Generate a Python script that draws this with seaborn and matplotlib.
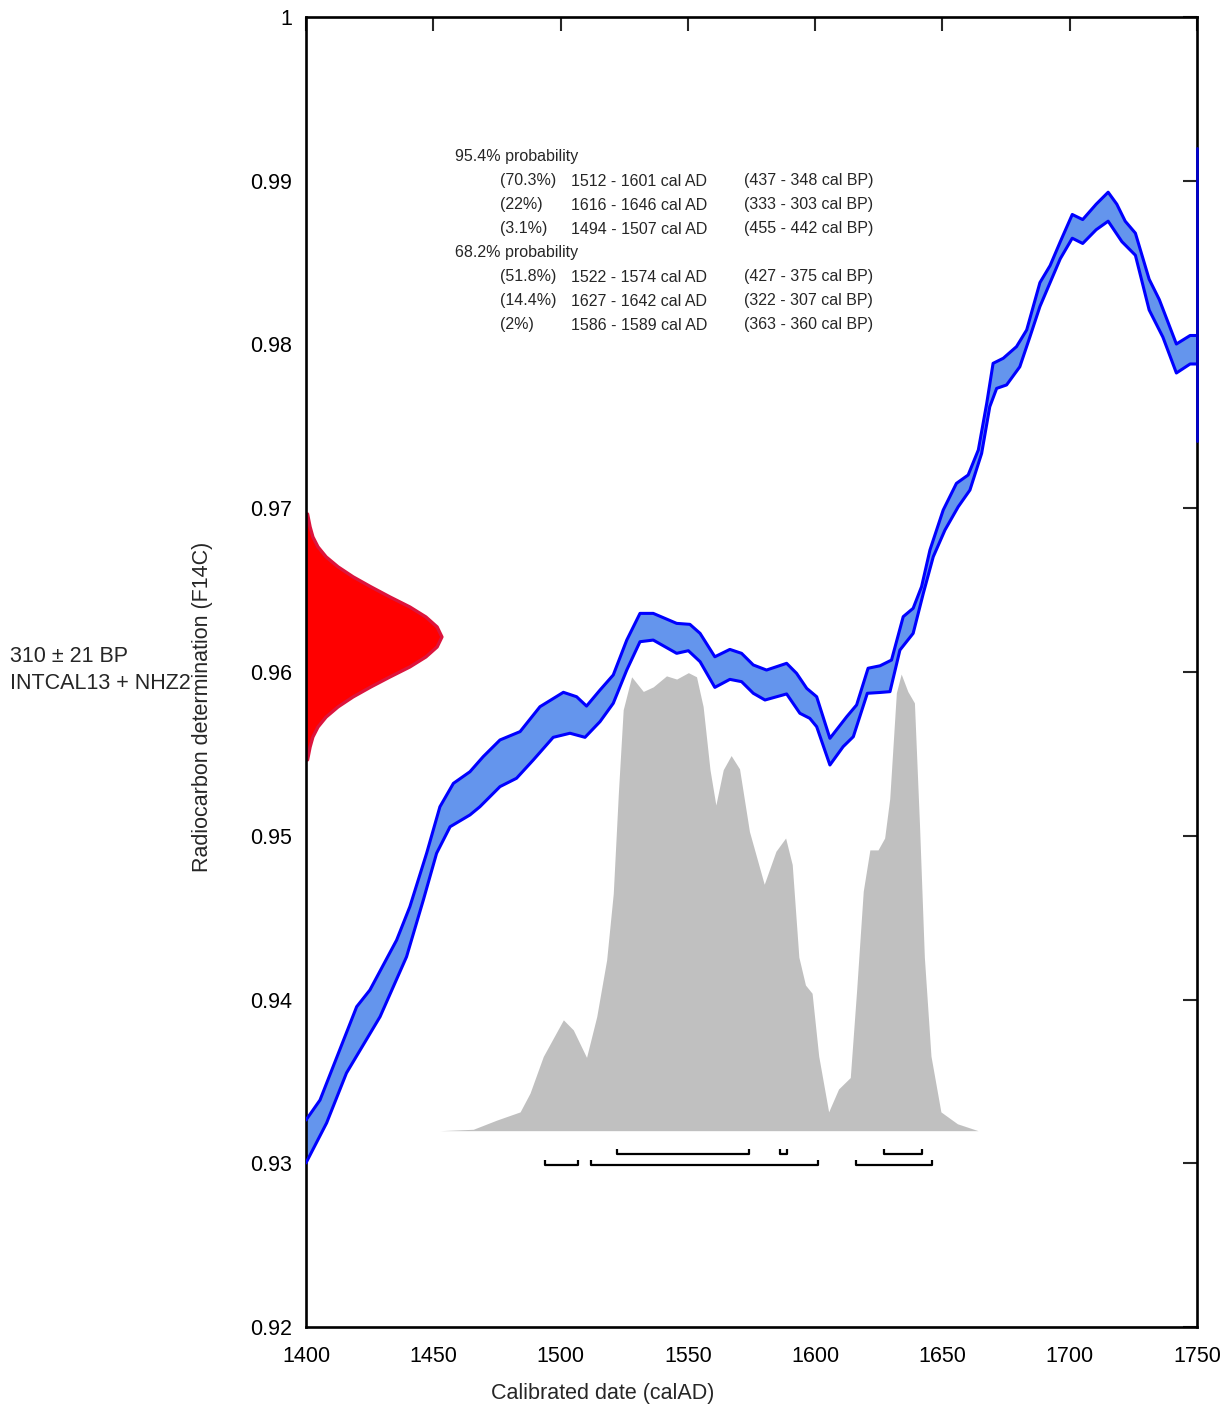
import numpy as np
import matplotlib
matplotlib.use("Agg")
import matplotlib.pyplot as plt
import seaborn as sns
import pandas as pd

# calibration curve band (INTCAL13 + NHZ2), upper edge
upper_year = [1400.0, 1405.5, 1410.6, 1419.9, 1425.1, 1435.6, 1440.8, 1447.4, 1452.6, 1457.9,
              1464.4, 1469.6, 1476.2, 1484.1, 1491.9, 1501.1, 1506.3, 1510.2, 1515.5, 1520.7,
              1526.0, 1531.2, 1536.4, 1545.6, 1550.8, 1554.8, 1560.6, 1566.5, 1571.1, 1575.7,
              1580.9, 1588.8, 1592.7, 1596.7, 1600.6, 1605.8, 1612.4, 1616.3, 1620.8, 1625.5,
              1630.0, 1634.6, 1638.5, 1641.8, 1645.1, 1650.3, 1655.5, 1660.1, 1664.1, 1667.4,
              1669.9, 1673.9, 1679.1, 1683.1, 1688.3, 1692.3, 1696.3, 1701.0, 1705.1, 1710.4,
              1715.1, 1718.5, 1721.8, 1725.8, 1731.2, 1735.2, 1741.9, 1747.3, 1750.0]
upper_f = [0.93264, 0.93386, 0.93588, 0.93956, 0.94058, 0.94363, 0.94567, 0.94894, 0.95177, 0.95320,
           0.95391, 0.95483, 0.95585, 0.95636, 0.95788, 0.95876, 0.95849, 0.95792, 0.95890, 0.95982,
           0.96195, 0.96358, 0.96358, 0.96297, 0.96291, 0.96236, 0.96093, 0.96138, 0.96114, 0.96043,
           0.96012, 0.96053, 0.95992, 0.95900, 0.95849, 0.95595, 0.95727, 0.95799, 0.96023, 0.96038,
           0.96073, 0.96338, 0.96389, 0.96521, 0.96745, 0.96989, 0.97152, 0.97203, 0.97356, 0.97641,
           0.97885, 0.97916, 0.97987, 0.98089, 0.98378, 0.98482, 0.98628, 0.98794, 0.98763, 0.98857,
           0.98930, 0.98857, 0.98753, 0.98680, 0.98399, 0.98274, 0.98003, 0.98055, 0.98055]

# lower edge
lower_year = [1400.0, 1408.1, 1415.9, 1429.1, 1439.5, 1446.1, 1451.3, 1456.6, 1464.4, 1468.3,
              1476.2, 1482.7, 1489.3, 1497.1, 1503.7, 1509.6, 1515.5, 1520.7, 1526.0, 1531.2,
              1536.4, 1545.6, 1550.2, 1554.8, 1560.6, 1566.5, 1571.1, 1575.7, 1580.3, 1588.8,
              1594.0, 1597.9, 1600.6, 1605.8, 1611.0, 1615.0, 1620.5, 1625.5, 1629.4, 1633.3,
              1638.5, 1642.5, 1646.4, 1651.0, 1656.2, 1660.8, 1665.4, 1668.6, 1671.3, 1675.2,
              1680.4, 1684.4, 1688.3, 1692.3, 1696.3, 1701.0, 1705.1, 1710.4, 1715.1, 1720.5,
              1725.8, 1731.2, 1736.6, 1741.9, 1747.3, 1750.0]
lower_f = [0.93002, 0.93246, 0.93551, 0.93895, 0.94261, 0.94608, 0.94893, 0.95055, 0.95127, 0.95177,
           0.95300, 0.95351, 0.95463, 0.95601, 0.95626, 0.95601, 0.95697, 0.95809, 0.96012, 0.96185,
           0.96195, 0.96114, 0.96130, 0.96063, 0.95906, 0.95955, 0.95941, 0.95870, 0.95829, 0.95866,
           0.95748, 0.95717, 0.95666, 0.95432, 0.95544, 0.95605, 0.95870, 0.95875, 0.95880, 0.96134,
           0.96236, 0.96481, 0.96704, 0.96867, 0.97009, 0.97111, 0.97335, 0.97620, 0.97732, 0.97753,
           0.97864, 0.98048, 0.98232, 0.98378, 0.98524, 0.98649, 0.98617, 0.98701, 0.98753, 0.98628,
           0.98545, 0.98211, 0.98045, 0.97826, 0.97881, 0.97881]

# band closing edge drawn on the right border
closing_f = [0.9741, 0.9920]

# calibrated date probability (relative to the maximum)
prob_year = [1452.6, 1465.7, 1474.9, 1484.1, 1488.0, 1493.2, 1501.1, 1505.0, 1510.2, 1514.2,
             1518.1, 1520.7, 1522.7, 1524.6, 1527.9, 1532.5, 1536.4, 1541.6, 1545.6, 1550.2,
             1553.4, 1556.0, 1558.7, 1561.0, 1563.9, 1567.0, 1570.3, 1574.2, 1580.0, 1584.6,
             1588.4, 1591.0, 1593.6, 1596.2, 1598.8, 1601.4, 1605.3, 1609.2, 1613.8, 1616.3,
             1618.9, 1621.5, 1624.7, 1627.3, 1629.3, 1631.9, 1633.8, 1636.4, 1639.0, 1641.0,
             1642.9, 1645.5, 1649.4, 1655.9, 1664.0]
prob_rel = [0.000, 0.003, 0.023, 0.041, 0.082, 0.162, 0.242, 0.220, 0.160, 0.249,
            0.373, 0.518, 0.737, 0.919, 0.991, 0.959, 0.969, 0.993, 0.986, 1.000,
            0.991, 0.926, 0.788, 0.711, 0.788, 0.819, 0.790, 0.653, 0.538, 0.610,
            0.639, 0.581, 0.379, 0.318, 0.300, 0.163, 0.041, 0.091, 0.116, 0.307,
            0.523, 0.613, 0.613, 0.639, 0.725, 0.956, 0.997, 0.959, 0.934, 0.667,
            0.379, 0.163, 0.041, 0.015, 0.000]

# measured radiocarbon age 310 +/- 21 BP, outline on the F14C axis (width in years)
meas_f = [0.95463, 0.95542, 0.95603, 0.95664, 0.95725, 0.95787, 0.95848, 0.95909, 0.95970, 0.96031,
          0.96092, 0.96153, 0.96214, 0.96275, 0.96336, 0.96397, 0.96458, 0.96520, 0.96581, 0.96642,
          0.96703, 0.96764, 0.96825, 0.96886, 0.96965]
meas_w = [0.6, 1.6, 2.7, 4.7, 7.9, 12.6, 18.5, 25.5, 33.0, 40.8,
          47.1, 51.5, 53.4, 51.5, 47.1, 40.8, 33.0, 25.5, 18.5, 12.6,
          7.9, 4.7, 2.7, 1.6, 0.6]

# probability ranges
ranges_95 = [(1512, 1601), (1616, 1646), (1494, 1507)]
bp_95 = [(437, 348), (333, 303), (455, 442)]
pct_95 = ["70.3%", "22%", "3.1%"]
ranges_68 = [(1522, 1574), (1627, 1642), (1586, 1589)]
bp_68 = [(427, 375), (322, 307), (363, 360)]
pct_68 = ["51.8%", "14.4%", "2%"]

x_ticks = [1400, 1450, 1500, 1550, 1600, 1650, 1700, 1750]
y_ticks = [0.92, 0.93, 0.94, 0.95, 0.96, 0.97, 0.98, 0.99, 1.0]

W, H = 1223, 1405
sns.set_style("white")
plt.rcParams['font.family'] = ['Liberation Sans', 'DejaVu Sans']
plt.rcParams['lines.solid_joinstyle'] = 'round'

fig = plt.figure(figsize=(W / 100, H / 100), dpi=100)
ax = fig.add_axes([306 / W, 1 - 1327 / H, 891 / W, 1310 / H])


def fpos(x, y):
    return x / W, 1 - y / H


# probability distribution
prob = pd.DataFrame({'year': prob_year, 'rel': prob_rel})
base_f = 0.93199
height_f = 0.02797
ax.fill_between(prob['year'], base_f, base_f + prob['rel'] * height_f,
                color='#C0C0C0', lw=0, zorder=1)

# calibration band
band_x = np.concatenate([upper_year, lower_year[::-1]])
band_y = np.concatenate([upper_f, lower_f[::-1]])
ax.fill(band_x, band_y, color='#6495ED', lw=0, zorder=2)
sns.lineplot(x=upper_year, y=upper_f, sort=False, estimator=None, color='#0000FF',
             lw=2.2, ax=ax, zorder=3)
sns.lineplot(x=lower_year, y=lower_f, sort=False, estimator=None, color='#0000FF',
             lw=2.2, ax=ax, zorder=3)
ax.plot([upper_year[-1]] * 2, closing_f, color='#0000CD', lw=2, clip_on=False, zorder=6)

# measurement distribution
meas_edge = 1400 + np.array(meas_w)
ax.fill_betweenx(meas_f, 1400, meas_edge, color='#FF0000', lw=0, zorder=2)
ax.plot(meas_edge, meas_f, color='#DC143C', lw=2.4, zorder=2.2)

# range brackets
for rngs, yb in ((ranges_95, 0.92990), (ranges_68, 0.93057)):
    for a, b in rngs:
        ax.plot([a, a, b, b], [yb + 0.00032, yb, yb, yb + 0.00032],
                color='black', lw=1.6, solid_capstyle='butt', zorder=4)

ax.set_xlim(1400, 1750)
ax.set_ylim(0.92, 1.0)
ax.set_xticks(x_ticks)
ax.set_yticks(y_ticks)
ax.set_yticklabels([f"{v:g}" for v in y_ticks])
ax.tick_params(direction='out', length=9, width=1.5, labelsize=15.5, colors='black',
               pad=1)
ax.tick_params(axis='x', pad=5)
for s in ax.spines.values():
    s.set_linewidth(1.9)
    s.set_color('black')

top = ax.secondary_xaxis('top')
top.set_xticks(x_ticks)
top.tick_params(direction='in', length=10, width=1.5, labeltop=False)
right = ax.secondary_yaxis('right')
right.set_yticks(y_ticks)
right.tick_params(direction='in', length=10, width=1.5, labelright=False)

ax.set_xlabel('Calibrated date (calAD)', fontsize=15.5)
ax.xaxis.set_label_coords(0.333, -0.043)
ax.set_ylabel('Radiocarbon determination (F14C)', fontsize=15.5)
ax.yaxis.set_label_coords(-0.104, 0.4733)

# sample text
fig.text(*fpos(10, 657), '310 \u00b1 21 BP', fontsize=15.5, va='center', ha='left')
fig.text(*fpos(10, 684), 'INTCAL13 + NHZ2', fontsize=15.5, va='center', ha='left')

# probability summary
rows = [('95.4% probability', None)]
rows += [(p, (r, b)) for p, r, b in zip(pct_95, ranges_95, bp_95)]
rows.append(('68.2% probability', None))
rows += [(p, (r, b)) for p, r, b in zip(pct_68, ranges_68, bp_68)]
for i, (label, info) in enumerate(rows):
    y = 157 + 24 * i
    if info is None:
        fig.text(*fpos(455, y), label, fontsize=11.5, va='center')
        continue
    (a, b), (ba, bb) = info
    fig.text(*fpos(500, y), f'({label})', fontsize=11.5, va='center')
    fig.text(*fpos(571, y), f'{a} - {b} cal AD', fontsize=11.5, va='center')
    fig.text(*fpos(744, y), f'({ba} - {bb} cal BP)', fontsize=11.5, va='center')

fig.savefig('out.png', dpi=100)
